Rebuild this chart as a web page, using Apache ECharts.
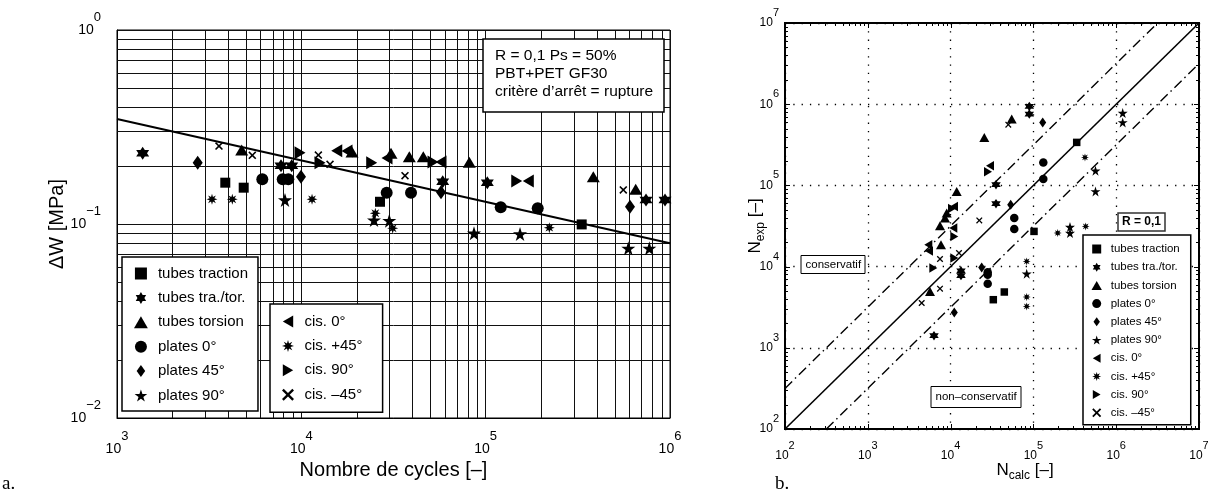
<!DOCTYPE html>
<html><head><meta charset="utf-8">
<script src="https://cdn.jsdelivr.net/npm/echarts@6/dist/echarts.min.js"></script>
<style>html,body{margin:0;padding:0;background:#fff}#c{width:1208px;height:498px}</style>
</head><body><div id="c"></div>
<script>
// ---------- Panel a : [Nombre de cycles, ΔW (MPa)] ----------
const a_tubesTraction = [[3868,0.1633],[4868,0.1539],[26720,0.1302],[331900,0.0995]];
const a_tubesTraTor   = [[1378,0.2314],[7757,0.1998],[8867,0.1998],[58480,0.1652],[102100,0.1633],[741100,0.1330],[939600,0.1330]];
const a_tubesTorsion  = [[4748,0.2406],[18830,0.2350],[30650,0.2314],[38530,0.2223],[45890,0.2223],[81520,0.2080],[383700,0.1753],[651600,0.1510]];
const a_plates0       = [[6142,0.1700],[7925,0.1700],[8496,0.1700],[29040,0.1450],[39360,0.1450],[120700,0.1219],[191600,0.1205]];
const a_plates45      = [[2740,0.2070],[9959,0.1753],[57240,0.1457],[606700,0.1228]];
const a_plates90      = [[8154,0.1330],[24790,0.1048],[30000,0.1040],[86440,0.0896],[153600,0.0888],[593900,0.0749],[772300,0.0749]];
const a_cis0          = [[15560,0.2386],[17690,0.2378],[29160,0.2189],[57240,0.2087],[170300,0.1666]];
const a_cis45p        = [[3276,0.1341],[4222,0.1341],[11430,0.1341],[25200,0.1136],[31310,0.0950],[221500,0.0957]];
const a_cis90         = [[9836,0.2331],[12630,0.2070],[24090,0.2070],[51810,0.2087],[147400,0.1666]];
const a_cis45m        = [[3575,0.2523],[5420,0.2260],[12370,0.2268],[14310,0.2031],[36510,0.1774],[558000,0.1498]];
const a_fitLine       = [[1000,0.3476],[1000000,0.0796]];

// ---------- Panel b : [N_calc, N_exp] ----------
const b_tubesTraction = [[333400,338600],[101700,27140],[32790,3912],[44530,4867]];
const b_tubesTraTor   = [[89240,939500],[89240,757000],[35350,102000],[35350,59500],[13350,8867],[13350,7757],[6303,1409]];
const b_tubesTorsion  = [[54700,657000],[25530,390000],[11850,84330],[8974,45700],[8557,39680],[7447,31900],[7656,18610],[5639,4950]];
const b_plates0       = [[131700,191900],[131700,119900],[58760,39680],[58760,29040],[28060,8496],[28060,7925],[28060,6142]];
const b_plates45      = [[129500,596800],[53180,57860],[23740,9775],[11080,2729]];
const b_plates90      = [[1198000,779000],[1198000,596800],[562300,151700],[562300,84330],[276700,30740],[276700,25930],[83000,8177]];
const b_cis0          = [[5379,18610],[5483,15560],[10780,29880],[10990,55100],[29910,174800]];
const b_cis45p        = [[428100,31260],[196600,25930],[419800,221200],[83000,11590],[83000,4223],[83000,3235]];
const b_cis90         = [[6180,9612],[11080,12760],[11080,23550],[10390,51810],[28290,147400]];
const b_cis45m        = [[49770,559000],[22210,37070],[12630,14710],[7447,12410],[7447,5343],[4477,3562]];
const b_lineExact     = [[100,100],[10000000,10000000]];
const b_lineUpper     = [[100,316],[3160000,10000000]];
const b_lineLower     = [[316,100],[10000000,3160000]];

// ---------- names, axes, ticks ----------
const seriesNames = ['tubes traction','tubes tra./tor.','tubes torsion','plates 0°','plates 45°','plates 90°','cis. 0°','cis. +45°','cis. 90°','cis. –45°'];
const aXRange = [1000, 1000000];
const aYRange = [0.01, 1];
const bRange  = [100, 10000000];
const aXTickExp = ['3','4','5','6'];
const aYTickExp = ['−2','−1','0'];
const bTickExp  = ['2','3','4','5','6','7'];
const minorMult = [2,3,4,5,6,7,8,9];
const aXDecades = [1000,10000,100000];
const aYDecades = [0.01,0.1];
const bDecades  = [100,1000,10000,100000,1000000];

const FONT = 'Liberation Sans, Arial, Helvetica, sans-serif';

const P = {
  square: 'path://M0,0 L10,0 L10,10 L0,10 Z',
  diamond: 'path://M0,-7 L5,0 L0,7 L-5,0 Z',
  star5: 'path://M0,-10 L2.245,-3.09 L9.511,-3.09 L3.633,1.18 L5.878,8.09 L0,3.82 L-5.878,8.09 L-3.633,1.18 L-9.511,-3.09 L-2.245,-3.09 Z',
  hex: 'path://M0,-10 L2.887,-5 L8.66,-5 L5.774,0 L8.66,5 L2.887,5 L0,10 L-2.887,5 L-8.66,5 L-5.774,0 L-8.66,-5 L-2.887,-5 Z',
  triL: 'path://M0,5 L8.66,0 L8.66,10 Z',
  triR: 'path://M0,0 L8.66,5 L0,10 Z',
  triU: 'path://M0,8.66 L5,0 L10,8.66 Z',
  cross: 'path://M-5,-3.6 L-3.6,-5 L0,-1.4 L3.6,-5 L5,-3.6 L1.4,0 L5,3.6 L3.6,5 L0,1.4 L-3.6,5 L-5,3.6 L-1.4,0 Z',
  ast: 'path://M0,-10 L1.722,-4.157 L7.071,-7.071 L4.157,-1.722 L10,0 L4.157,1.722 L7.071,7.071 L1.722,4.157 L0,10 L-1.722,4.157 L-7.071,7.071 L-4.157,1.722 L-10,0 L-4.157,-1.722 L-7.071,-7.071 L-1.722,-4.157 Z'
};
const symbols = [P.square, P.hex, P.triU, 'circle', P.diamond, P.star5, P.triL, P.ast, P.triR, P.cross];
const sizesA = [10, 13, [13,11], 12, [10,14], 14, [11,13], 11, [11,13], 8];
const sizesB = [7.5, 9.5, [10,9], 8.5, [7,10], 10, [8,9.5], 8, [8,9.5], 6.5];
const dataA = [a_tubesTraction,a_tubesTraTor,a_tubesTorsion,a_plates0,a_plates45,a_plates90,a_cis0,a_cis45p,a_cis90,a_cis45m];
const dataB = [b_tubesTraction,b_tubesTraTor,b_tubesTorsion,b_plates0,b_plates45,b_plates90,b_cis0,b_cis45p,b_cis90,b_cis45m];

function expFmt(list, startExp){ return v => '{a|10}{b|' + list[Math.round(Math.log10(v)) - startExp] + '}'; }
const richA = {a:{fontSize:14,lineHeight:16,fontFamily:FONT,color:'#000'}, b:{fontSize:13,lineHeight:14,padding:[0,0,26,0],fontFamily:FONT,color:'#000'}};
const richB = {a:{fontSize:12,lineHeight:14,fontFamily:FONT,color:'#000'}, b:{fontSize:11,lineHeight:12,padding:[0,0,20,0],fontFamily:FONT,color:'#000'}};

// minor gridline values (panel a) and tick values (panel b)
const aMinorX = []; aXDecades.forEach(d => minorMult.forEach(m => aMinorX.push([d*m, aYRange[0]])));
const aMinorY = []; aYDecades.forEach(d => minorMult.forEach(m => aMinorY.push([aXRange[0], d*m])));
const bTickX = [], bTickY = [];
bDecades.forEach(d => { bTickX.push([d, bRange[0]]); bTickY.push([bRange[0], d]); minorMult.forEach(m => { bTickX.push([d*m, bRange[0]]); bTickY.push([bRange[0], d*m]); }); });
bTickX.push([bRange[1], bRange[0]]); bTickY.push([bRange[0], bRange[1]]);

function crisp(v){ return Math.round(v) + 0.5; }
function isMajor(v){ const l = Math.log10(v); return Math.abs(l - Math.round(l)) < 1e-6; }

const series = [];
// panel a minor grid lines
series.push({type:'custom', xAxisIndex:0, yAxisIndex:0, silent:true, z:1, clip:false, data:aMinorX,
  renderItem:(p, api) => { const v = api.value(0); const b = api.coord([v, aYRange[0]]), t = api.coord([v, aYRange[1]]); const x = crisp(b[0]);
    return {type:'line', shape:{x1:x,y1:b[1],x2:x,y2:t[1]}, style:{stroke:'#111',lineWidth:1}}; }});
series.push({type:'custom', xAxisIndex:0, yAxisIndex:0, silent:true, z:1, clip:false, data:aMinorY,
  renderItem:(p, api) => { const v = api.value(1); const l = api.coord([aXRange[0], v]), r = api.coord([aXRange[1], v]); const y = crisp(l[1]);
    return {type:'line', shape:{x1:l[0],y1:y,x2:r[0],y2:y}, style:{stroke:'#111',lineWidth:1}}; }});
// panel b ticks (inside, on all four sides)
series.push({type:'custom', xAxisIndex:1, yAxisIndex:1, silent:true, z:1, clip:false, data:bTickX,
  renderItem:(p, api) => { const v = api.value(0); const L = isMajor(v) ? 5 : 3; const b = api.coord([v, bRange[0]]), t = api.coord([v, bRange[1]]); const x = crisp(b[0]);
    return {type:'group', children:[
      {type:'line', shape:{x1:x,y1:b[1],x2:x,y2:b[1]-L}, style:{stroke:'#000',lineWidth:1}},
      {type:'line', shape:{x1:x,y1:t[1],x2:x,y2:t[1]+L}, style:{stroke:'#000',lineWidth:1}}]}; }});
series.push({type:'custom', xAxisIndex:1, yAxisIndex:1, silent:true, z:1, clip:false, data:bTickY,
  renderItem:(p, api) => { const v = api.value(1); const L = isMajor(v) ? 5 : 3; const l = api.coord([bRange[0], v]), r = api.coord([bRange[1], v]); const y = crisp(l[1]);
    return {type:'group', children:[
      {type:'line', shape:{x1:l[0],y1:y,x2:l[0]+L,y2:y}, style:{stroke:'#000',lineWidth:1}},
      {type:'line', shape:{x1:r[0],y1:y,x2:r[0]-L,y2:y}, style:{stroke:'#000',lineWidth:1}}]}; }});
// fit line (a)
series.push({type:'line', xAxisIndex:0, yAxisIndex:0, data:a_fitLine, showSymbol:false, symbol:'none', silent:true, z:3,
  lineStyle:{color:'#000', width:2}});
// diagonals (b)
series.push({type:'line', xAxisIndex:1, yAxisIndex:1, data:b_lineExact, symbol:'none', silent:true, z:3, lineStyle:{color:'#000', width:1.6}});
series.push({type:'line', xAxisIndex:1, yAxisIndex:1, data:b_lineUpper, symbol:'none', silent:true, z:3, lineStyle:{color:'#000', width:1.4, type:[10,4,1.5,4]}});
series.push({type:'line', xAxisIndex:1, yAxisIndex:1, data:b_lineLower, symbol:'none', silent:true, z:3, lineStyle:{color:'#000', width:1.4, type:[10,4,1.5,4]}});
// scatter
seriesNames.forEach((n, i) => {
  series.push({type:'scatter', name:n, xAxisIndex:0, yAxisIndex:0, data:dataA[i], symbol:symbols[i], symbolSize:sizesA[i], z:5,
    itemStyle:{color:'#000', opacity:1}});
  series.push({type:'scatter', name:n, xAxisIndex:1, yAxisIndex:1, data:dataB[i], symbol:symbols[i], symbolSize:sizesB[i], z:5,
    itemStyle:{color:'#000', opacity:1}});
});

const axisBase = {type:'log', logBase:10, axisLine:{show:true, lineStyle:{color:'#000', width:1}}, axisTick:{show:false},
  minorTick:{show:false}, minorSplitLine:{show:false}, nameMoveOverlap:false};

const option = {
  animation:false,
  backgroundColor:'#fff',
  textStyle:{fontFamily:FONT, color:'#000'},
  grid:[
    {left:117, top:30, width:553, height:388, containLabel:false, outerBoundsMode:'none', show:true, borderColor:'#000', borderWidth:1, backgroundColor:'transparent'},
    {left:785, top:23, width:414, height:406, containLabel:false, outerBoundsMode:'none', show:true, borderColor:'#000', borderWidth:2, backgroundColor:'transparent'}
  ],
  xAxis:[
    Object.assign({}, axisBase, {gridIndex:0, min:aXRange[0], max:aXRange[1],
      axisLabel:{formatter:expFmt(aXTickExp,3), rich:richA, margin:23, color:'#000'},
      splitLine:{show:true, lineStyle:{color:'#111', width:1, type:'solid'}},
      name:'Nombre de cycles [–]', nameLocation:'middle', nameGap:42,
      nameTextStyle:{fontSize:20, fontFamily:FONT, color:'#000'}}),
    Object.assign({}, axisBase, {gridIndex:1, min:bRange[0], max:bRange[1],
      axisLine:{show:true, lineStyle:{color:'#000', width:2}},
      axisLabel:{formatter:expFmt(bTickExp,2), rich:richB, margin:20, color:'#000'},
      splitLine:{show:true, lineStyle:{color:'#000', width:1.3, type:[1.3,7]}},
      name:'{n|N}{s|calc}{n| [–]}', nameLocation:'middle', nameGap:31,
      nameTextStyle:{padding:[0,0,0,66], rich:{n:{fontSize:17,fontFamily:FONT,color:'#000',lineHeight:20}, s:{fontSize:12,fontFamily:FONT,color:'#000',padding:[12,0,0,0],lineHeight:14}}}})
  ],
  yAxis:[
    Object.assign({}, axisBase, {gridIndex:0, min:aYRange[0], max:aYRange[1],
      axisLabel:{formatter:expFmt(aYTickExp,-2), rich:richA, margin:16, color:'#000'},
      splitLine:{show:true, lineStyle:{color:'#111', width:1, type:'solid'}},
      name:'ΔW [MPa]', nameLocation:'middle', nameGap:50,
      nameTextStyle:{fontSize:20, fontFamily:FONT, color:'#000'}}),
    Object.assign({}, axisBase, {gridIndex:1, min:bRange[0], max:bRange[1],
      axisLine:{show:true, lineStyle:{color:'#000', width:2}},
      axisLabel:{formatter:expFmt(bTickExp,2), rich:richB, margin:6, color:'#000'},
      splitLine:{show:true, lineStyle:{color:'#000', width:1.3, type:[1.3,7]}},
      name:'{n|N}{s|exp}{n| [–]}', nameLocation:'middle', nameGap:20,
      nameTextStyle:{rich:{n:{fontSize:17,fontFamily:FONT,color:'#000',lineHeight:20}, s:{fontSize:12,fontFamily:FONT,color:'#000',padding:[12,0,0,0],lineHeight:14}}}})
  ],
  legend:[
    {data:seriesNames.slice(0,6), orient:'vertical', left:122, top:257, itemWidth:24, itemHeight:12, itemGap:9.4,
     padding:[9,10,8,12], borderColor:'#000', borderWidth:1.5, backgroundColor:'#fff', selectedMode:false,
     textStyle:{fontSize:15, lineHeight:14, fontFamily:FONT, color:'#000'}},
    {data:seriesNames.slice(6), orient:'vertical', left:270, top:304, itemWidth:23, itemHeight:12, itemGap:9.4,
     padding:[10,20,10,12], borderColor:'#000', borderWidth:1.5, backgroundColor:'#fff', selectedMode:false,
     textStyle:{fontSize:15, lineHeight:14, fontFamily:FONT, color:'#000'}},
    {data:seriesNames, orient:'vertical', left:1083, top:235, itemWidth:18, itemHeight:9, itemGap:6.2,
     padding:[8,11,6,8.5], borderColor:'#000', borderWidth:1.5, backgroundColor:'#fff', selectedMode:false,
     textStyle:{fontSize:11.5, lineHeight:12, fontFamily:FONT, color:'#000'}}
  ],
  title:[
    {text:'R = 0,1 Ps = 50%\nPBT+PET GF30\ncritère d’arrêt = rupture', left:483, top:39, padding:[8,11,11,12],
     borderColor:'#000', borderWidth:1.5, backgroundColor:'#fff',
     textStyle:{fontSize:15.5, fontWeight:'normal', lineHeight:18, color:'#000', fontFamily:FONT}},
    {text:'R = 0,1', left:1118, top:213, padding:[2,4,2,4], borderColor:'#333', borderWidth:1.5, backgroundColor:'#fff',
     textStyle:{fontSize:12, fontWeight:'bold', lineHeight:14, color:'#000', fontFamily:FONT}},
    {text:'conservatif', left:801, top:255, padding:[3,4.5,3,4.5], borderColor:'#000', borderWidth:1, backgroundColor:'#fff',
     textStyle:{fontSize:11.5, fontWeight:'normal', lineHeight:13, color:'#000', fontFamily:FONT}},
    {text:'non–conservatif', left:931, top:386, padding:[4,4.5,4,4.5], borderColor:'#000', borderWidth:1, backgroundColor:'#fff',
     textStyle:{fontSize:11.5, fontWeight:'normal', lineHeight:14, color:'#000', fontFamily:FONT}},
    {text:'a.', left:2, top:475, padding:0, textStyle:{fontSize:19, fontWeight:'normal', color:'#000', fontFamily:'Liberation Serif, Times New Roman, serif'}},
    {text:'b.', left:775, top:475, padding:0, textStyle:{fontSize:19, fontWeight:'normal', color:'#000', fontFamily:'Liberation Serif, Times New Roman, serif'}}
  ],
  series: series
};
const chart = echarts.init(document.getElementById('c'), null, {renderer:'canvas'});
chart.setOption(option);
</script></body></html>
